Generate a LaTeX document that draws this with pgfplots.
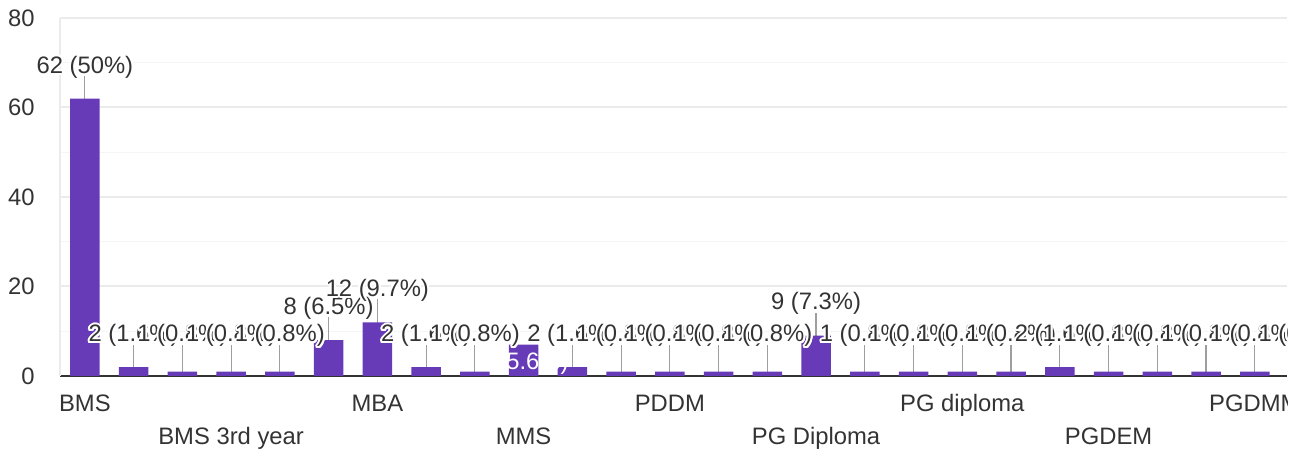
\documentclass[border=0pt]{standalone}
\usepackage{pgfplots}
\pgfplotsset{compat=1.18}
\usepackage{pgfplotstable}
\usepackage{fontspec}
\setmainfont{Liberation Sans}
\usepackage{contour}
\contourlength{1pt}

\definecolor{barcol}{HTML}{673AB7}
\definecolor{txtcol}{HTML}{333333}
\definecolor{leadcol}{HTML}{9E9E9E}
\definecolor{gridmaj}{HTML}{EBEBEB}
\definecolor{gridmin}{HTML}{F5F5F5}
\definecolor{axiscol}{HTML}{333333}

\newcommand{\chartfont}{\fontsize{11.9pt}{13pt}\selectfont}

% responses per course
\pgfplotstableread{
x y
0 62
1 2
2 1
3 1
4 1
5 8
6 12
7 2
8 1
9 7
10 2
11 1
12 1
13 1
14 1
15 9
16 1
17 1
18 1
19 1
20 2
21 1
22 1
23 1
24 1
25 1
}\bars

% annotations: leader top and label text
\pgfplotstableread[col sep=comma]{
x,ly,lbl
0,67.0,62 (50\%)
1,6.93,2 (1.6\%)
2,6.93,1 (0.8\%)
3,6.93,1 (0.8\%)
4,6.93,1 (0.8\%)
5,13.18,8 (6.5\%)
6,17.2,12 (9.7\%)
7,6.93,2 (1.6\%)
8,6.93,1 (0.8\%)
10,6.93,2 (1.6\%)
11,6.93,1 (0.8\%)
12,6.93,1 (0.8\%)
13,6.93,1 (0.8\%)
14,6.93,1 (0.8\%)
15,14.08,9 (7.3\%)
16,6.93,1 (0.8\%)
17,6.93,1 (0.8\%)
18,6.93,1 (0.8\%)
19,6.93,1 (0.8\%)
20,6.93,2 (1.6\%)
21,6.93,1 (0.8\%)
22,6.93,1 (0.8\%)
23,6.93,1 (0.8\%)
24,6.93,1 (0.8\%)
25,6.93,1 (0.8\%)
}\ann

\begin{document}
\begin{tikzpicture}
\useasboundingbox (0,0) rectangle (653.5pt,226.5pt);
\clip (0,0) rectangle (643.5pt,226.5pt);
\begin{axis}[
    anchor=south west, at={(30pt,38.5pt)},
    width=613.5pt, height=179pt, scale only axis,
    clip=false,
    xmin=-0.51, xmax=24.66,
    ymin=0, ymax=80,
    axis x line*=bottom, axis y line*=left,
    x axis line style={axiscol, line width=1pt},
    y axis line style={gridmaj, line width=1pt},
    major tick length=0, minor tick length=0,
    ytick={0,20,40,60,80},
    minor ytick={10,30,50,70},
    ymajorgrids, yminorgrids,
    major grid style={gridmaj, line width=1pt},
    minor grid style={gridmin, line width=0.5pt},
    /pgf/number format/assume math mode=true,
    yticklabel style={font=\chartfont, text=txtcol, inner sep=0pt, anchor=east},
    yticklabel shift=12.5pt,
    xtick={0,6,12,18,24},
    xticklabels={BMS,MBA,PDDM,PG diploma,PGDMM},
    extra x ticks={3,9,15,21},
    extra x tick labels={BMS 3rd year,MMS,PG Diploma,PGDEM},
    extra x tick style={xticklabel style={yshift=-16.5pt}},
    xticklabel style={font=\chartfont, text=txtcol, inner sep=0pt, anchor=base},
    xticklabel shift=18pt,
]

% leader lines
\addplot[ycomb, draw=leadcol, line width=0.6pt, mark=none]
    table[x=x, y=ly]{\ann};

% bars
\addplot[ybar, bar width=0.605, fill=barcol, draw=none]
    table[x=x, y=y]{\bars};

% labels above bars
\addplot[draw=none, mark=none,
    point meta=explicit symbolic,
    nodes near coords={\contour{white}{\pgfplotspointmeta}},
    nodes near coords style={anchor=base, yshift=1.5pt, inner sep=0pt,
        text=txtcol, font=\chartfont}]
    table[x=x, y=ly, meta=lbl]{\ann};

% label inside the MMS bar
\addplot[draw=none, mark=none,
    point meta=explicit symbolic,
    nodes near coords,
    nodes near coords style={anchor=base, inner sep=0pt,
        text=white, font=\chartfont}]
    coordinates {(9,1.34) [7 (5.6\%)]};

\end{axis}
\end{tikzpicture}
\end{document}
